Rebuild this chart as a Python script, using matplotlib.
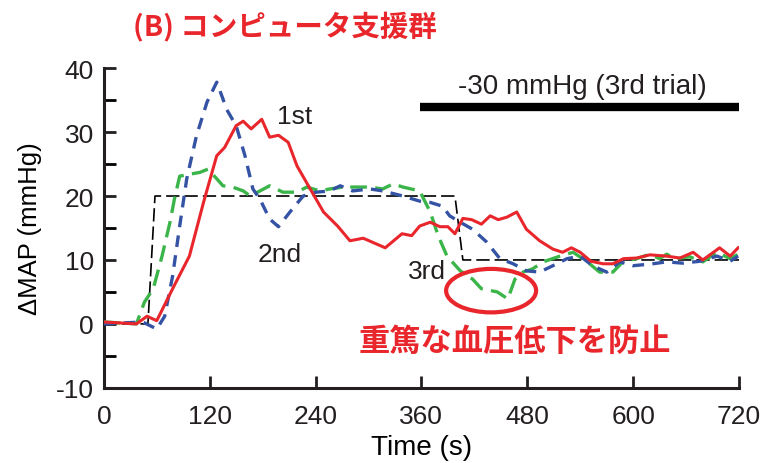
import numpy as np
import matplotlib.pyplot as plt
from matplotlib.patches import Ellipse

# 1st trial (red, solid)
t_1st = [0, 37, 49, 60, 78, 97, 113, 128, 137, 150, 158, 167, 179, 188, 198, 209, 219, 234, 249,
         265, 279, 294, 319, 338, 349, 358, 370, 381, 390, 398, 407, 417, 428, 438, 447, 457, 468,
         479, 494, 509, 520, 530, 540, 552, 566, 577, 589, 604, 619, 638, 653, 668, 679, 698, 710, 719]
v_1st = [0.3, 0, 1.2, 0.5, 5.5, 10.6, 19, 26.3, 27.6, 31, 31.7, 30.5, 32, 29.2, 29.5, 28.4, 24.7, 21.1, 17.5,
         15.3, 13, 13.4, 11.9, 14.1, 13.8, 15.3, 15.9, 15.2, 15.2, 14.1, 16.5, 16.3, 15.6, 16.9, 16.3, 16.7, 17.5,
         14.8, 13, 11.7, 11.2, 11.9, 11.2, 9.8, 9.4, 9.4, 10.2, 10.3, 10.8, 10.6, 10.3, 11.2, 10, 11.9, 10.6, 11.9]

# 2nd trial (blue, dashed)
t_2nd = [0, 44, 60, 69, 78, 86, 94, 105, 117, 128, 135, 139, 150, 160, 169, 177, 188, 198, 211, 226,
         241, 256, 268, 282, 302, 316, 339, 358, 370, 384, 392, 404, 418, 434, 449, 464, 479, 494,
         509, 525, 540, 554, 570, 585, 600, 622, 638, 656, 676, 695, 710, 719]
v_2nd = [0, 0.3, -0.8, 1.2, 7.5, 15.3, 22.7, 29.4, 34.7, 37.8, 35.2, 33.6, 31, 26.3, 21.1, 19.5, 16.4, 15.2, 17.5, 20,
         20.6, 20.8, 21.6, 20.8, 21.1, 20.8, 20, 19.2, 19, 18.4, 16.9, 15.9, 14.8, 12.8, 10.2, 9.4, 8.3, 8.1,
         9.1, 10.2, 10.6, 9.1, 8.1, 9.7, 9.1, 9.4, 9.7, 9.5, 9.8, 10.6, 9.8, 10.6]

# 3rd trial (green, dashed)
t_3rd = [0, 37, 46, 56, 66, 75, 80, 86, 97, 109, 118, 128, 135, 146, 158, 166, 177, 188, 203, 219,
         230, 245, 256, 271, 287, 302, 316, 328, 339, 358, 370, 379, 389, 404, 418, 428, 446, 458,
         466, 475, 486, 498, 517, 532, 548, 562, 577, 589, 604, 619, 630, 638, 649, 664, 679, 695, 710, 719]
v_3rd = [0.3, 0, 3.4, 5.5, 10.6, 15.9, 19.5, 23.1, 23.4, 23.7, 24.2, 22.7, 21.6, 21.4, 20.8, 20, 20.8, 21.6, 20.6, 20.6,
         21.4, 20.8, 21.1, 21.4, 21.4, 21.4, 21.1, 21.9, 21.4, 20.8, 17.5, 13.8, 10.6, 8.3, 7, 5.5, 5, 3.9,
         7, 8.1, 8.6, 9.7, 10.6, 11.2, 9.7, 8.1, 8.1, 9.8, 10.2, 10.9, 10.2, 10.9, 10.2, 10.5, 9.7, 11.2, 10.2, 10.9]

# target pressure (black thin dashed)
t_target = [0, 50, 58, 398, 407, 720]
v_target = [0, 0, 20, 20, 10, 10]

RED = '#e8262b'
BLUE = '#3453a4'
GREEN = '#3bb54a'

plt.rcParams['font.family'] = ['Liberation Sans', 'Noto Sans CJK JP', 'DejaVu Sans']
plt.rcParams['axes.unicode_minus'] = False
plt.rcParams['text.color'] = '#231f20'

fig = plt.figure(figsize=(7.69, 4.64), dpi=100)
ax = fig.add_axes([0.135, 0.162, 0.826, 0.689])

ax.plot(t_target, v_target, color='black', lw=1.2, dashes=(8, 3), zorder=2)
ax.plot(t_3rd, v_3rd, color=GREEN, lw=2.4, dashes=(5, 2.5), zorder=3)
ax.plot(t_2nd, v_2nd, color=BLUE, lw=2.4, dashes=(3.5, 2.5), zorder=4)
ax.plot(t_1st, v_1st, color=RED, lw=2.2, zorder=5)

ax.text(216, 32.5, '1st', fontsize=19, ha='center', va='center')
ax.text(199, 10.9, '2nd', fontsize=19, ha='center', va='center')
ax.text(366, 8.3, '3rd', fontsize=19, ha='center', va='center')

# -30 mmHg bar
ax.plot([358, 720], [33.9, 33.9], color='black', lw=6, solid_capstyle='butt', clip_on=False)
ax.text(543, 37.2, '-30 mmHg (3rd trial)', fontsize=20, ha='center', va='center')

ax.add_patch(Ellipse((439, 5.2), 102, 6.8, fill=False, edgecolor=RED, lw=3, zorder=6))
ax.text(466, -2.7, '重篤な血圧低下を防止', fontsize=22.5, color=RED, fontweight='bold',
        family=['Noto Sans CJK JP'], ha='center', va='center', zorder=7)

ax.set_xlim(0, 720)
ax.set_ylim(-10, 40)
ax.set_xticks(np.arange(0, 721, 120))
ax.set_yticks(np.arange(-10, 41, 10))
ax.set_yticks(np.arange(-10, 41, 5), minor=True)
ax.tick_params(axis='both', direction='in', length=8.5, width=2, labelsize=19, colors='#231f20')
ax.tick_params(axis='x', pad=12)
ax.tick_params(axis='y', pad=7)
ax.tick_params(axis='y', which='minor', direction='in', length=8.5, width=2)
for s in ['top', 'right']:
    ax.spines[s].set_visible(False)
for s in ['left', 'bottom']:
    ax.spines[s].set_linewidth(2.2)
    ax.spines[s].set_color('#231f20')

ax.set_xlabel('Time (s)', fontsize=20, labelpad=4)
ax.set_ylabel('ΔMAP (mmHg)', fontsize=18.5, labelpad=10)

fig.text(0.173, 0.94, '(B) コンピュータ支援群', fontsize=20.5, color=RED, fontweight='bold',
         family=['Noto Sans CJK JP'], ha='left', va='center')

fig.savefig('out.png', dpi=100)
